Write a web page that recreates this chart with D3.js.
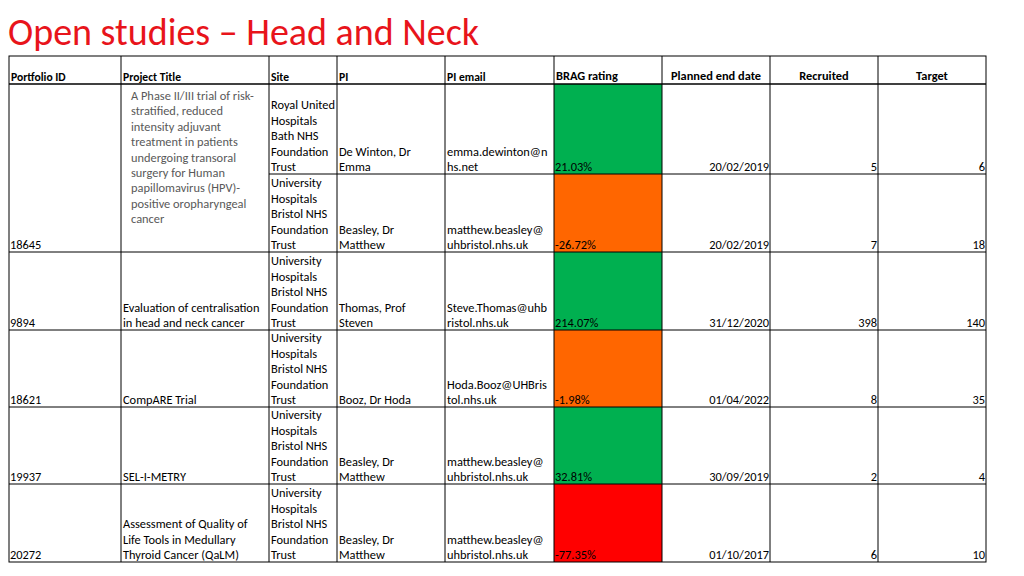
<!DOCTYPE html>
<html><head><meta charset="utf-8">
<script src="https://cdn.jsdelivr.net/npm/d3@7"></script>
<style>body{margin:0;background:#fff}text{font-family:Carlito,'Liberation Sans Narrow','DejaVu Sans Condensed',sans-serif}</style>
</head><body><svg id="c" width="1024" height="576"></svg>
<script>
var headers = ['Portfolio ID', 'Project Title', 'Site', 'PI', 'PI email', 'BRAG rating', 'Planned end date', 'Recruited', 'Target']
var ids = ['18645', '18645', '9894', '18621', '19937', '20272']
var titles = [
  'A Phase II/III trial of risk-\nstratified, reduced\nintensity adjuvant\ntreatment in patients\nundergoing transoral\nsurgery for Human\npapillomavirus (HPV)-\npositive oropharyngeal\ncancer',
  '', 'Evaluation of centralisation\nin head and neck cancer', 'CompARE Trial', 'SEL-I-METRY',
  'Assessment of Quality of\nLife Tools in Medullary\nThyroid Cancer (QaLM)']
var sites = ['Royal United\nHospitals\nBath NHS\nFoundation\nTrust',
  'University\nHospitals\nBristol NHS\nFoundation\nTrust',
  'University\nHospitals\nBristol NHS\nFoundation\nTrust',
  'University\nHospitals\nBristol NHS\nFoundation\nTrust',
  'University\nHospitals\nBristol NHS\nFoundation\nTrust',
  'University\nHospitals\nBristol NHS\nFoundation\nTrust']
var pis = ['De Winton, Dr\nEmma', 'Beasley, Dr\nMatthew', 'Thomas, Prof\nSteven', 'Booz, Dr Hoda', 'Beasley, Dr\nMatthew', 'Beasley, Dr\nMatthew']
var emails = ['emma.dewinton@n\nhs.net', 'matthew.beasley@\nuhbristol.nhs.uk', 'Steve.Thomas@uhb\nristol.nhs.uk', 'Hoda.Booz@UHBris\ntol.nhs.uk', 'matthew.beasley@\nuhbristol.nhs.uk', 'matthew.beasley@\nuhbristol.nhs.uk']
var brag = ['21.03%', '-26.72%', '214.07%', '-1.98%', '32.81%', '-77.35%']
var bragColor = ['green', 'orange', 'green', 'orange', 'green', 'red']
var endDates = ['20/02/2019', '20/02/2019', '31/12/2020', '01/04/2022', '30/09/2019', '01/10/2017']
var recruited = [5, 7, 398, 8, 2, 6]
var target = [6, 18, 140, 35, 4, 10]

var colX = [9, 121, 269, 337, 445, 554, 662, 770, 878, 986]
var rowY = [84, 174, 252, 330, 407, 484, 562]
var colors = {green: '#00b050', orange: '#ff6600', red: '#ff0000'}
var lh = 15.4

var svg = d3.select('#c')
svg.append('text').attr('x', 8).attr('y', 45).attr('fill', '#e8141b')
  .style('font-size', '38px').style('font-weight', 300)
  .text('Open studies \u2013 Head and Neck')

// brag fills
svg.selectAll('rect.brag').data(brag).join('rect')
  .attr('x', colX[5]).attr('width', colX[6] - colX[5])
  .attr('y', function(d, i) { return rowY[i] }).attr('height', function(d, i) { return rowY[i + 1] - rowY[i] })
  .attr('fill', function(d, i) { return colors[bragColor[i]] })

function bottomText(x, yb, str, anchor, fill) {
  var lines = String(str).split('\n')
  var t = svg.append('text').attr('text-anchor', anchor || 'start').attr('fill', fill || '#000').style('font-size', '12.4px')
  lines.forEach(function(l, k) {
    t.append('tspan').attr('x', x).attr('y', yb - (lines.length - 1 - k) * lh).text(l)
  })
}

// headers
headers.forEach(function(h, j) {
  var center = j >= 6
  var x = center ? (colX[j] + colX[j + 1]) / 2 : colX[j] + 2
  var y = j >= 5 ? 80 : 81
  svg.append('text').attr('x', x).attr('y', y).attr('text-anchor', center ? 'middle' : 'start')
    .style('font-size', j >= 5 ? '12.4px' : '11.6px').style('font-weight', 'bold').text(h)
})

for (var i = 0; i < 6; i++) {
  var yb = rowY[i + 1] - 3
  if (i !== 0) bottomText(colX[0] + 1, yb, ids[i])
  if (i >= 2) bottomText(colX[1] + 2, yb, titles[i])
  bottomText(colX[2] + 2, yb, sites[i])
  bottomText(colX[3] + 2, yb, pis[i])
  bottomText(colX[4] + 2, yb, emails[i])
  bottomText(colX[5] + 1, yb, brag[i])
  bottomText(colX[7] - 1, yb, endDates[i], 'end')
  bottomText(colX[8] - 1, yb, recruited[i], 'end')
  bottomText(colX[9] - 1, yb, target[i], 'end')
}
// first project title, top aligned and grey
var tl = titles[0].split('\n')
var tt = svg.append('text').attr('fill', '#595959').style('font-size', '12.4px')
tl.forEach(function(l, k) { tt.append('tspan').attr('x', colX[1] + 10).attr('y', 100 + k * lh).text(l) })

// grid
var g = svg.append('g').attr('stroke', '#000').attr('fill', 'none')
g.append('rect').attr('x', colX[0]).attr('y', 56).attr('width', colX[9] - colX[0]).attr('height', rowY[6] - 56)
colX.slice(1, -1).forEach(function(x) { g.append('line').attr('x1', x).attr('x2', x).attr('y1', 56).attr('y2', rowY[6]) })
g.append('line').attr('x1', colX[0]).attr('x2', colX[9]).attr('y1', 84).attr('y2', 84).attr('stroke-width', 1.5)
rowY.slice(1, -1).forEach(function(y, k) {
  g.append('line').attr('x1', k === 0 ? colX[2] : colX[0]).attr('x2', colX[9]).attr('y1', y).attr('y2', y)
})
</script></body></html>
